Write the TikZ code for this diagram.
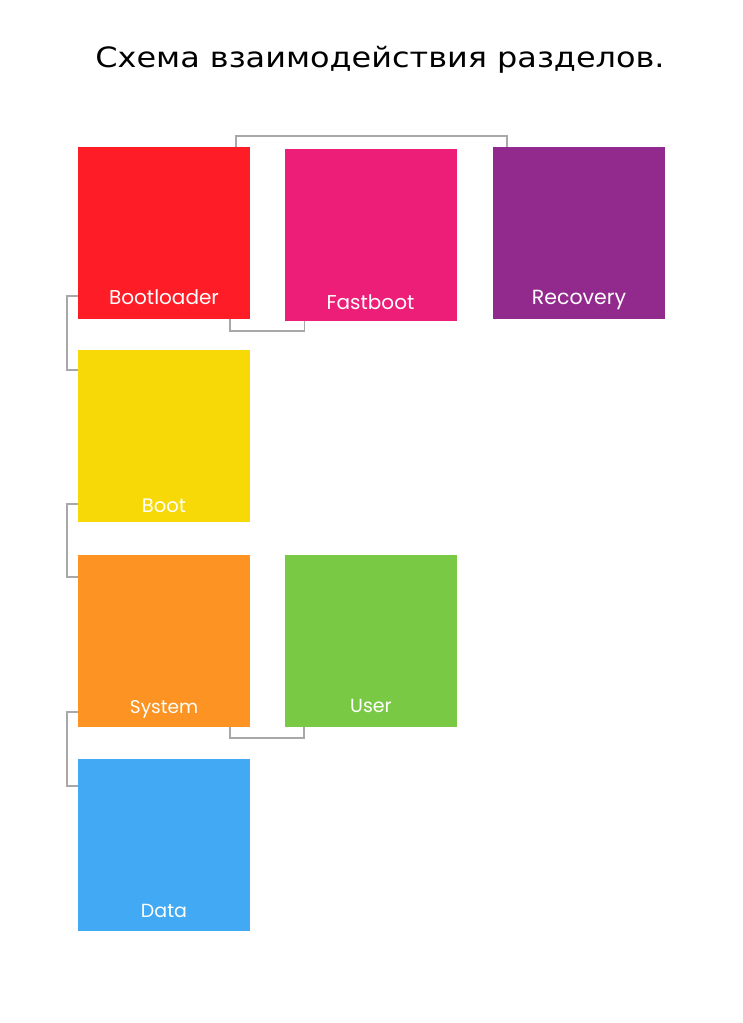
\documentclass[tikz,border=0pt]{standalone}
\usepackage{fontspec}
\setmainfont{Poppins}
\newfontfamily\titlefont{DejaVu Sans}

\definecolor{tileRed}{HTML}{FE1D26}
\definecolor{tilePink}{HTML}{EC1E78}
\definecolor{tilePurple}{HTML}{922A8D}
\definecolor{tileYellow}{HTML}{F6D906}
\definecolor{tileOrange}{HTML}{FD9322}
\definecolor{tileGreen}{HTML}{7AC944}
\definecolor{tileBlue}{HTML}{42A9F4}
\definecolor{linkGray}{HTML}{A8A8A8}

\begin{document}
\begin{tikzpicture}[x=1pt, y=-1pt,
        tile/.style={minimum size=172pt, inner sep=0pt, outer sep=0pt},
        tiletext/.style={text=white, anchor=base, inner sep=0pt},
        link/.style={draw=linkGray, line width=1.4pt}]
        % --- 画面の大きさ ---
        \useasboundingbox[fill=white] (0,0) rectangle (743,1023);

        % --- タイトル ---
        \node[font=\titlefont\fontsize{28}{30}\selectfont, anchor=base, xscale=1.14] (title) at (380,67) {Схема взаимодействия разделов.};

        % --- パーティションのタイル ---
        \foreach \nm/\cx/\cy/\ty/\fs/\col/\txt in {
            bl/164/233/304/20/tileRed/Bootloader,
            fb/370.5/234.5/309/20/tilePink/Fastboot,
            rec/579/233/304/20.5/tilePurple/Recovery,
            boot/164/436/512/19.5/tileYellow/Boot,
            sys/164/641/713/18.5/tileOrange/System,
            usr/371/641/712/19/tileGreen/User,
            data/164/845/917/19/tileBlue/Data} {
            \node[tile, fill=\col] (\nm) at (\cx,\cy) {};
            \node[tiletext, font=\fontsize{\fs}{\fs}\selectfont] (\nm-t) at (\cx,\ty) {\txt};
        }

        % --- 接続線 ---
        % 上側: Bootloader → Recovery
        \draw[link] ([xshift=-14pt]bl.north east) -- ++(0,-11) -| ([xshift=14pt]rec.north west);
        % 下側: Bootloader → Fastboot
        \draw[link] ([xshift=-20pt]bl.south east) -- ++(0,12) -| ([xshift=20pt]fb.south west);
        % 左側の縦の流れ
        \draw[link] ([yshift=23pt]bl.south west) -- ++(-11,0) |- ([yshift=-20pt]boot.north west);
        \draw[link] ([yshift=18pt]boot.south west) -- ++(-11,0) |- ([yshift=-22pt]sys.north west);
        \draw[link] ([yshift=15pt]sys.south west) -- ++(-11,0) |- ([yshift=-27pt]data.north west);
        % 下側: System → User
        \draw[link] ([xshift=-20pt]sys.south east) -- ++(0,11) -| ([xshift=19pt]usr.south west);

    \end{tikzpicture}
\end{document}
